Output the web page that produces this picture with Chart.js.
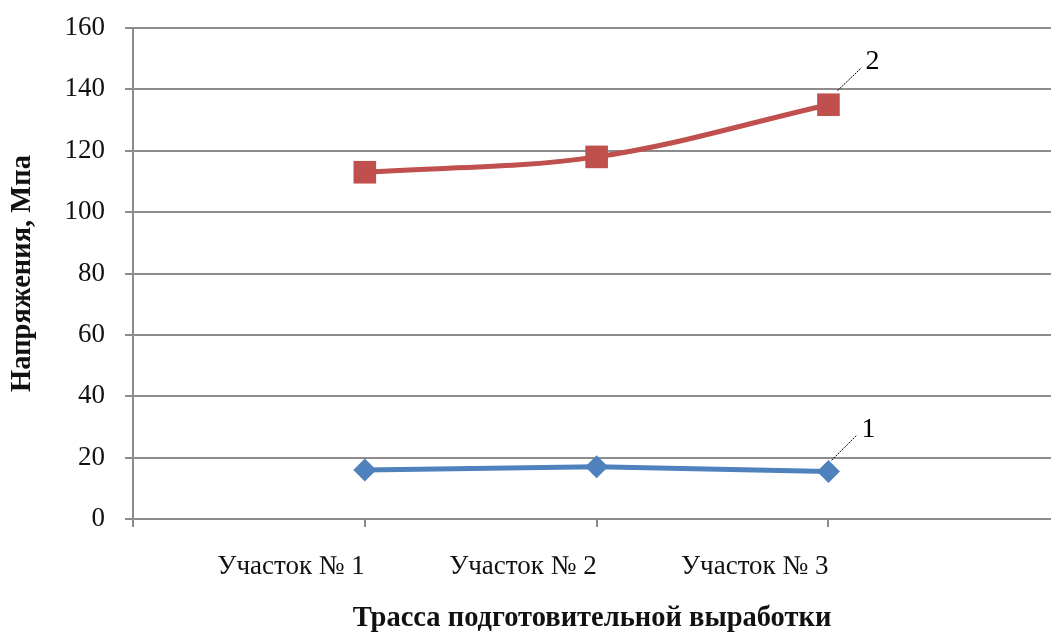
<!DOCTYPE html>
<html>
<head>
<meta charset="utf-8">
<script src="https://cdn.jsdelivr.net/npm/chart.js@4/dist/chart.umd.min.js"></script>
<style>
html,body{margin:0;padding:0;background:#fff;}
#wrap{width:1051px;height:634px;position:relative;}
</style>
</head>
<body>
<div id="wrap"><canvas id="c" width="1051" height="634"></canvas></div>
<script>
const categories = ["Участок № 1", "Участок № 2", "Участок № 3"];
const positions = [1, 2, 3];
const series1 = [16, 17, 15.5];
const series2 = [113, 118, 135];
const seriesLabels = ["1", "2"];
const yTicks = [0, 20, 40, 60, 80, 100, 120, 140, 160];
const yTitle = "Напряжения, Мпа";
const xTitle = "Трасса подготовительной выработки";

const FONT = "'Liberation Serif', 'Times New Roman', serif";

const callouts = {
  id: 'callouts',
  afterDatasetsDraw(chart) {
    const ctx = chart.ctx;
    const xs = chart.scales.x, ys = chart.scales.y;
    const specs = [
      {data: series1, label: seriesLabels[0], dx0: 3, dy0: -11, dx1: 28, dy1: -36, lx: 33, ly: -34},
      {data: series2, label: seriesLabels[1], dx0: 9, dy0: -14, dx1: 33, dy1: -37, lx: 37, ly: -36}
    ];
    ctx.save();
    specs.forEach(s => {
      const i = s.data.length - 1;
      const px = xs.getPixelForValue(positions[i]);
      const py = ys.getPixelForValue(s.data[i]);
      ctx.strokeStyle = '#000';
      ctx.lineWidth = 1;
      ctx.setLineDash([2, 1]);
      ctx.beginPath();
      ctx.moveTo(px + s.dx0, py + s.dy0);
      ctx.lineTo(px + s.dx1, py + s.dy1);
      ctx.stroke();
      ctx.setLineDash([]);
      ctx.fillStyle = '#000';
      ctx.font = "28px " + FONT;
      ctx.textAlign = 'left';
      ctx.textBaseline = 'alphabetic';
      ctx.fillText(s.label, px + s.lx, py + s.ly);
    });
    ctx.restore();
  }
};

new Chart(document.getElementById('c'), {
  type: 'line',
  data: {
    datasets: [
      {
        label: seriesLabels[0],
        data: positions.map((p, i) => ({x: p, y: series1[i]})),
        borderColor: '#4F81BD',
        backgroundColor: '#4F81BD',
        borderWidth: 5,
        pointStyle: 'rectRot',
        pointRadius: 11.5,
        pointBorderWidth: 0,
        tension: 0
      },
      {
        label: seriesLabels[1],
        data: positions.map((p, i) => ({x: p, y: series2[i]})),
        borderColor: '#C0504D',
        backgroundColor: '#C0504D',
        borderWidth: 5,
        pointStyle: 'rect',
        pointRadius: 16,
        pointBorderWidth: 0,
        tension: 0.35
      }
    ]
  },
  options: {
    responsive: false,
    animation: false,
    layout: {autoPadding: false, padding: {top: 28, right: 0, left: 0, bottom: 0}},
    plugins: {legend: {display: false}, tooltip: {enabled: false}},
    scales: {
      x: {
        type: 'linear',
        min: 0,
        max: 3.96,
        afterFit(s) { s.height = 115; s.paddingLeft = 0; s.paddingRight = 0; },
        afterBuildTicks(s) { s.ticks = [0, 1, 2, 3].map(v => ({value: v})); },
        grid: {display: true, drawOnChartArea: false, color: '#8c8c8c', tickLength: 8, lineWidth: 2},
        border: {display: true, color: '#8c8c8c', width: 2},
        ticks: {
          padding: 24,
          align: 'end',
          color: '#111',
          font: {family: FONT, size: 27},
          maxRotation: 0,
          autoSkip: false,
          callback: (v) => (v >= 1 && v <= categories.length) ? categories[v - 1] : ''
        },
        title: {
          display: true,
          text: xTitle,
          color: '#111',
          font: {family: FONT, size: 28.5, weight: 'bold', lineHeight: 1.05},
          padding: {top: 0, bottom: 0}
        }
      },
      y: {
        min: 0,
        max: 160,
        afterFit(s) { s.width = 133; s.paddingTop = 0; s.paddingBottom = 0; },
        afterBuildTicks(s) { s.ticks = yTicks.map(v => ({value: v})); },
        grid: {color: '#8c8c8c', lineWidth: 2, tickLength: 8},
        border: {display: true, color: '#8c8c8c', width: 2},
        ticks: {
          padding: 20,
          color: '#111',
          font: {family: FONT, size: 27}
        },
        title: {
          display: true,
          text: yTitle,
          color: '#111',
          font: {family: FONT, size: 28.5, weight: 'bold'},
          padding: {top: 6, bottom: 0}
        }
      }
    }
  },
  plugins: [callouts]
});
</script>
</body>
</html>
